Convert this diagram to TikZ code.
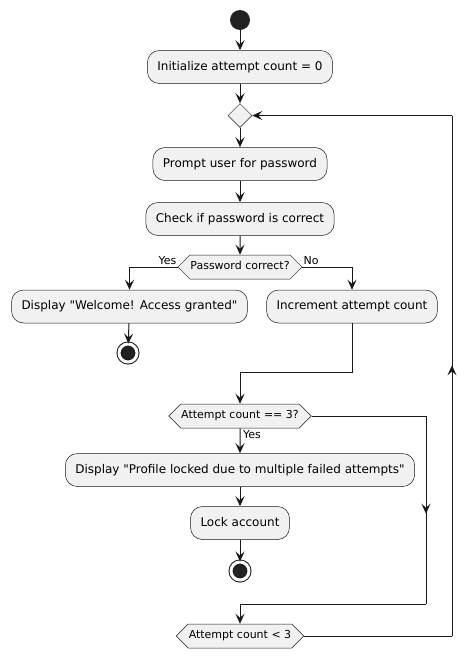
\documentclass[tikz,border=0pt]{standalone}
\usepackage{fontspec}
\setmainfont{DejaVu Sans}[Ligatures=TeXOff]
\usetikzlibrary{arrows.meta,shapes.geometric,shapes.symbols,decorations.markings}

\definecolor{umlline}{HTML}{181818}
\definecolor{umlfill}{HTML}{F1F1F1}
\definecolor{umldot}{HTML}{222222}

\begin{document}
\begin{tikzpicture}[x=1pt,y=-1pt,
    action/.style={draw=umlline,fill=umlfill,line width=.5pt,rounded corners=12pt,
      minimum height=33pt,inner xsep=10pt,text height=9pt,text depth=2.5pt,
      font=\fontsize{12}{14}\selectfont},
    choice/.style={draw=umlline,fill=umlfill,line width=.5pt,signal,
      signal to=west and east,signal pointer angle=90,minimum height=24pt,
      inner xsep=.5pt,inner ysep=0pt,text height=8pt,text depth=2.5pt,
      font=\fontsize{11}{13}\selectfont},
    merger/.style={draw=umlline,fill=umlfill,line width=.5pt,diamond,
      minimum size=24pt,inner sep=0pt},
    startdot/.style={circle,fill=umldot,minimum size=20pt,inner sep=0pt},
    stopdot/.style={circle,draw=umlline,fill=umldot,line width=1pt,
      double=white,double distance=3pt,minimum size=18pt,inner sep=0pt},
    lbl/.style={inner xsep=1pt,inner ysep=0pt,text height=8pt,text depth=2.5pt,
      font=\fontsize{11}{13}\selectfont},
    flow/.style={draw=umlline,line width=1pt,
      -{Stealth[length=10pt,width=9pt,inset=4pt]}},
    midarrow/.style={draw=umlline,line width=1pt,postaction={decorate},
      decoration={markings,mark=at position .52 with
        {\arrow{Stealth[length=10pt,width=9pt,inset=4pt]}}}}]

    \useasboundingbox (0,0) rectangle (476,659);

    % Main column
    \node[startdot] (start) at (240,20) {};
    \foreach \name/\y/\txt in {
      init/67/{Initialize attempt count = 0},
      prompt/164/{Prompt user for password},
      check/219/{Check if password is correct},
      profile/470/{Display "Profile locked due to multiple failed attempts"},
      lock/523/{Lock account}} {
      \node[action] (\name) at (240,\y) {\txt};
    }
    \node[merger] (merge) at (240,115.5) {};
    \node[choice] (pc) at (240,267) {Password correct?};
    \node[choice] (eq3) at (240,416) {Attempt count == 3?};
    \node[choice] (lt3) at (240,636) {Attempt count < 3};
    \node[stopdot] (stopB) at (240,571) {};

    % The two branches
    \node[action] (welcome) at (129.5,306.5) {Display "Welcome! Access granted"};
    \node[stopdot] (stopA) at (128,353) {};
    \node[action] (inc) at (352,306.5) {Increment attempt count};

    % Branch labels
    \node[lbl,anchor=south east] (yesA) at (pc.west) {Yes};
    \node[lbl,anchor=south west] (noA) at (pc.east) {No};
    \node[lbl,anchor=north west,inner ysep=2pt] (yesB) at ([xshift=2pt]eq3.south) {Yes};

    % Straight arrows
    \foreach \a/\b in {start/init, init/merge, merge/prompt, prompt/check,
      check/pc, welcome/stopA, eq3/profile, profile/lock, lock/stopB} {
      \draw[flow] (\a) -- (\b);
    }
    \draw[flow] (pc.west) -| (welcome.north);
    \draw[flow] (pc.east) -| (inc.north);

    % Join after increment
    \coordinate (join) at (240,372);
    \draw[flow] (inc.south) |- (join) -- (eq3.north);

    % Skip path when count is not 3
    \coordinate (skip) at (426,604);
    \draw[draw=umlline,line width=1pt] (eq3.east) -- (eq3.east -| skip);
    \draw[midarrow] (eq3.east -| skip) -- (skip);
    \draw[flow] (skip) -| (lt3.north);

    % Loop back to the top
    \coordinate (back) at (452,636);
    \draw[draw=umlline,line width=1pt] (lt3.east) -- (back);
    \draw[midarrow] (back) -- (back |- merge.east);
    \draw[flow] (back |- merge.east) -- (merge.east);

\end{tikzpicture}
\end{document}
